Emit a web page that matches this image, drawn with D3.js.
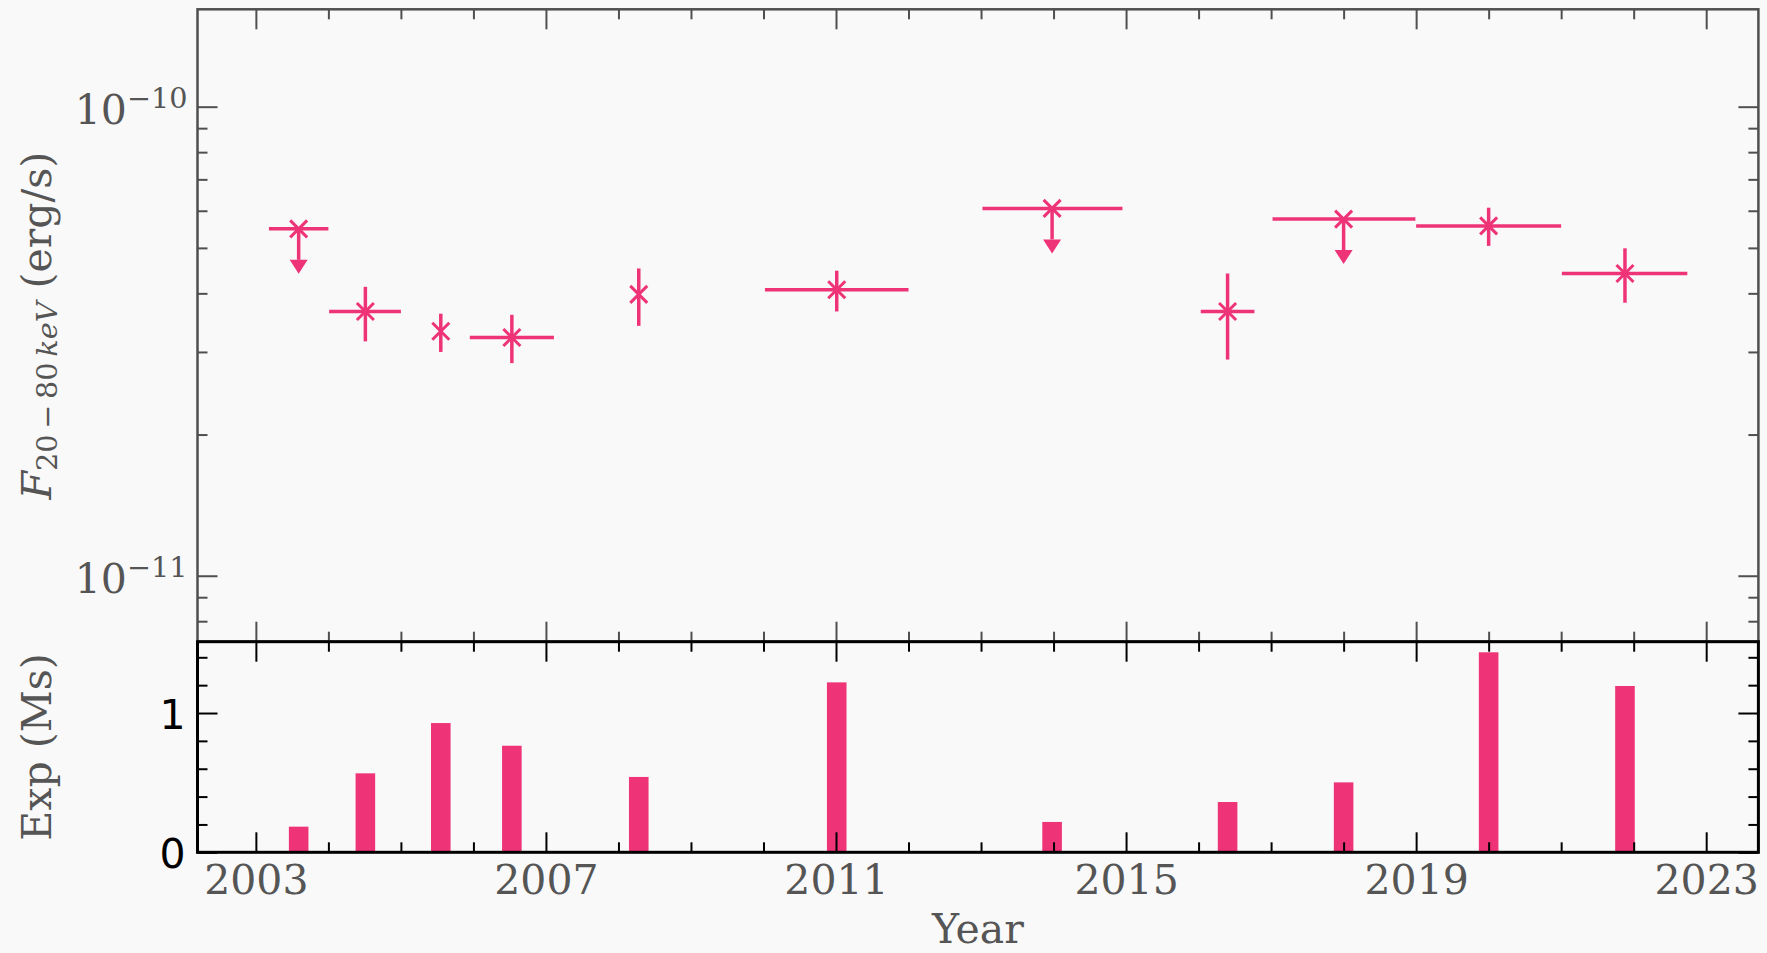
<!DOCTYPE html>
<html>
<head>
<meta charset="utf-8">
<script src="https://cdn.jsdelivr.net/npm/d3@7"></script>
<style>
  html, body { margin: 0; padding: 0; background: #f9f9f9; }
  svg { display: block; }
</style>
</head>
<body>
<script>
// Hard X-ray light curve (20–80 keV) with yearly exposure
const obsYear   = [2003.59, 2004.51, 2005.55, 2006.53, 2008.28, 2011.01, 2013.98, 2016.40, 2018.00, 2020.00, 2021.88];
const yearStart = [2003.18, 2004.01, 2005.55, 2005.95, 2008.28, 2010.02, 2013.02, 2016.03, 2017.02, 2019.00, 2021.01];
const yearEnd   = [2004.00, 2005.00, 2005.55, 2007.11, 2008.28, 2012.00, 2014.95, 2016.77, 2018.99, 2021.00, 2022.74];
// fluxes in erg/s
const flux      = [5.49e-11, 3.66e-11, 3.32e-11, 3.22e-11, 3.98e-11, 4.07e-11, 6.07e-11, 3.66e-11, 5.76e-11, 5.57e-11, 4.41e-11];
const fluxHigh  = [null, 4.13e-11, 3.62e-11, 3.60e-11, 4.52e-11, 4.47e-11, null, 4.41e-11, null, 6.09e-11, 4.99e-11];
const fluxLow   = [null, 3.16e-11, 3.00e-11, 2.84e-11, 3.41e-11, 3.66e-11, null, 2.89e-11, null, 5.05e-11, 3.82e-11];
const upperLimit = [true, false, false, false, false, false, true, false, true, false, false];
// exposure per epoch, Ms
const exposureMs = [0.184, 0.567, 0.928, 0.765, 0.541, 1.220, 0.218, 0.361, 0.502, 1.436, 1.194];

const yearMajorTicks = [2003, 2007, 2011, 2015, 2019, 2023];
const yearMinorTicks = d3.range(2003, 2024).filter(y => (y - 2003) % 4 !== 0);
const fluxMajorTicks = [1e-11, 1e-10];
const fluxMinorTicks = [8e-12, 9e-12, 2e-11, 3e-11, 4e-11, 5e-11, 6e-11, 7e-11, 8e-11, 9e-11];
const expMajorTicks = [0, 1];
const expMinorTicks = [0.2, 0.4, 0.6, 0.8, 1.2, 1.4];

const xDomain = [2002.195, 2023.72];
const fluxDomain = [7.234e-12, 1.613e-10];
const expDomain = [0, 1.512];
const barWidthYears = 0.27;

// layout
const W = 1767, H = 953;
const plotLeft = 197.5, plotRight = 1758.4, plotTop = 9.3, plotMid = 641.7, plotBottom = 852.3;
const pink = "#EE3377";
const grey = "#4f4f4f";
const textGrey = "#555555";
const FONT = "DejaVu Serif";
const FS = 41, FS_SMALL = 28.7;

const svg = d3.select("body").append("svg")
  .attr("width", W).attr("height", H)
  .style("background", "#f9f9f9");

const x = d3.scaleLinear().domain(xDomain).range([plotLeft, plotRight]);
const yF = d3.scaleLog().domain(fluxDomain).range([plotMid, plotTop]);
const yE = d3.scaleLinear().domain(expDomain).range([plotBottom, plotMid]);

function cleanAxis(g, color, width) {
  g.select(".domain").remove();
  g.selectAll(".tick line").attr("stroke", color).attr("stroke-width", width);
  g.selectAll(".tick text").remove();
}

function addTicks(parent, axisFn, scale, translate, major, minor, color, width) {
  const gMaj = parent.append("g").attr("transform", translate)
    .call(axisFn(scale).tickValues(major).tickSize(-20).tickFormat(""));
  cleanAxis(gMaj, color, width);
  const gMin = parent.append("g").attr("transform", translate)
    .call(axisFn(scale).tickValues(minor).tickSize(-10).tickFormat(""));
  cleanAxis(gMin, color, width);
}

// ---------- upper panel: flux ----------
const gTop = svg.append("g");

addTicks(gTop, d3.axisTop, x, `translate(0,${plotTop})`, yearMajorTicks, yearMinorTicks, grey, 2);
addTicks(gTop, d3.axisBottom, x, `translate(0,${plotMid})`, yearMajorTicks, yearMinorTicks, grey, 2);
addTicks(gTop, d3.axisLeft, yF, `translate(${plotLeft},0)`, fluxMajorTicks, fluxMinorTicks, grey, 2);
addTicks(gTop, d3.axisRight, yF, `translate(${plotRight},0)`, fluxMajorTicks, fluxMinorTicks, grey, 2);

// decade labels 10^n
const gFluxLab = gTop.append("g").attr("transform", `translate(${plotLeft},0)`)
  .call(d3.axisLeft(yF).tickValues(fluxMajorTicks).tickSize(0).tickPadding(10)
    .tickFormat(d => String(Math.round(Math.log10(d)))));
gFluxLab.select(".domain").remove();
gFluxLab.selectAll(".tick line").remove();
gFluxLab.selectAll(".tick text").each(function() {
  const t = d3.select(this);
  const exp = t.text().replace("-", "\u2212");
  t.text("").attr("dy", null).attr("y", 17)
    .attr("font-family", FONT).attr("font-size", FS).attr("fill", textGrey);
  t.append("tspan").text("10");
  t.append("tspan").attr("font-size", FS_SMALL).attr("dy", -16).text(exp);
});

gTop.append("rect")
  .attr("x", plotLeft).attr("y", plotTop).attr("width", plotRight - plotLeft).attr("height", plotMid - plotTop)
  .attr("fill", "none").attr("stroke", grey).attr("stroke-width", 2.5);

// flux points
const pts = gTop.append("g").attr("stroke", pink).attr("fill", pink);
obsYear.forEach((yr, i) => {
  const cx = x(yr), cy = yF(flux[i]);
  // horizontal bin width
  if (yearEnd[i] > yearStart[i]) {
    pts.append("line").attr("x1", x(yearStart[i])).attr("x2", x(yearEnd[i]))
      .attr("y1", cy).attr("y2", cy).attr("stroke-width", 3.5);
  }
  if (upperLimit[i]) {
    const shaft = 31, head = 14, hw = 9;
    pts.append("line").attr("x1", cx).attr("x2", cx).attr("y1", cy).attr("y2", cy + shaft)
      .attr("stroke-width", 3.5);
    pts.append("path")
      .attr("d", `M${cx - hw},${cy + shaft} L${cx + hw},${cy + shaft} L${cx},${cy + shaft + head} Z`)
      .attr("stroke", "none");
  } else {
    pts.append("line").attr("x1", cx).attr("x2", cx)
      .attr("y1", yF(fluxHigh[i])).attr("y2", yF(fluxLow[i])).attr("stroke-width", 3.5);
  }
  const m = 8.5;
  pts.append("path")
    .attr("d", `M${cx - m},${cy - m} L${cx + m},${cy + m} M${cx - m},${cy + m} L${cx + m},${cy - m}`)
    .attr("fill", "none").attr("stroke-width", 3);
});

// y label: F_{20-80 keV} (erg/s)
const yl = svg.append("text")
  .attr("transform", `translate(51,${(plotTop + plotMid) / 2}) rotate(-90)`)
  .attr("text-anchor", "middle")
  .attr("font-family", FONT).attr("font-size", FS).attr("fill", textGrey);
yl.append("tspan").attr("font-style", "italic").text("F");
yl.append("tspan").attr("font-size", FS_SMALL).attr("dy", 6).text("20\u2009\u2212\u200980\u2009");
yl.append("tspan").attr("font-size", FS_SMALL).attr("font-style", "italic").text("keV");
yl.append("tspan").attr("dy", -6).text(" (erg/s)");

// ---------- lower panel: exposure ----------
const gBot = svg.append("g");

gBot.append("g").selectAll("rect")
  .data(obsYear.map((yr, i) => ({ yr, e: exposureMs[i] })))
  .join("rect")
  .attr("x", d => x(d.yr - barWidthYears / 2))
  .attr("width", d => x(d.yr + barWidthYears / 2) - x(d.yr - barWidthYears / 2))
  .attr("y", d => yE(d.e))
  .attr("height", d => yE(0) - yE(d.e))
  .attr("fill", pink);

addTicks(gBot, d3.axisTop, x, `translate(0,${plotMid})`, yearMajorTicks, yearMinorTicks, "#000", 2);
addTicks(gBot, d3.axisBottom, x, `translate(0,${plotBottom})`, yearMajorTicks, yearMinorTicks, "#000", 2);
addTicks(gBot, d3.axisLeft, yE, `translate(${plotLeft},0)`, expMajorTicks, expMinorTicks, "#000", 2);
addTicks(gBot, d3.axisRight, yE, `translate(${plotRight},0)`, expMajorTicks, expMinorTicks, "#000", 2);

// year labels
const gYearLab = gBot.append("g").attr("transform", `translate(0,${plotBottom})`)
  .call(d3.axisBottom(x).tickValues(yearMajorTicks).tickSize(0).tickPadding(13).tickFormat(d3.format("d")));
gYearLab.select(".domain").remove();
gYearLab.selectAll(".tick line").remove();
gYearLab.selectAll(".tick text").attr("font-family", FONT).attr("font-size", FS).attr("fill", textGrey);

// exposure labels
const gExpLab = gBot.append("g").attr("transform", `translate(${plotLeft},0)`)
  .call(d3.axisLeft(yE).tickValues(expMajorTicks).tickSize(0).tickPadding(12).tickFormat(d3.format("d")));
gExpLab.select(".domain").remove();
gExpLab.selectAll(".tick line").remove();
gExpLab.selectAll(".tick text").attr("font-family", "DejaVu Sans").attr("font-size", FS)
  .attr("fill", "#000").attr("dy", "0.37em");

gBot.append("rect")
  .attr("x", plotLeft).attr("y", plotMid).attr("width", plotRight - plotLeft).attr("height", plotBottom - plotMid)
  .attr("fill", "none").attr("stroke", "#000").attr("stroke-width", 3);

svg.append("text")
  .attr("transform", `translate(51,${(plotMid + plotBottom) / 2}) rotate(-90)`)
  .attr("text-anchor", "middle")
  .attr("font-family", FONT).attr("font-size", FS).attr("fill", textGrey)
  .text("Exp (Ms)");

svg.append("text")
  .attr("x", (plotLeft + plotRight) / 2).attr("y", 943)
  .attr("text-anchor", "middle")
  .attr("font-family", FONT).attr("font-size", FS).attr("fill", textGrey)
  .text("Year");
</script>
</body>
</html>
